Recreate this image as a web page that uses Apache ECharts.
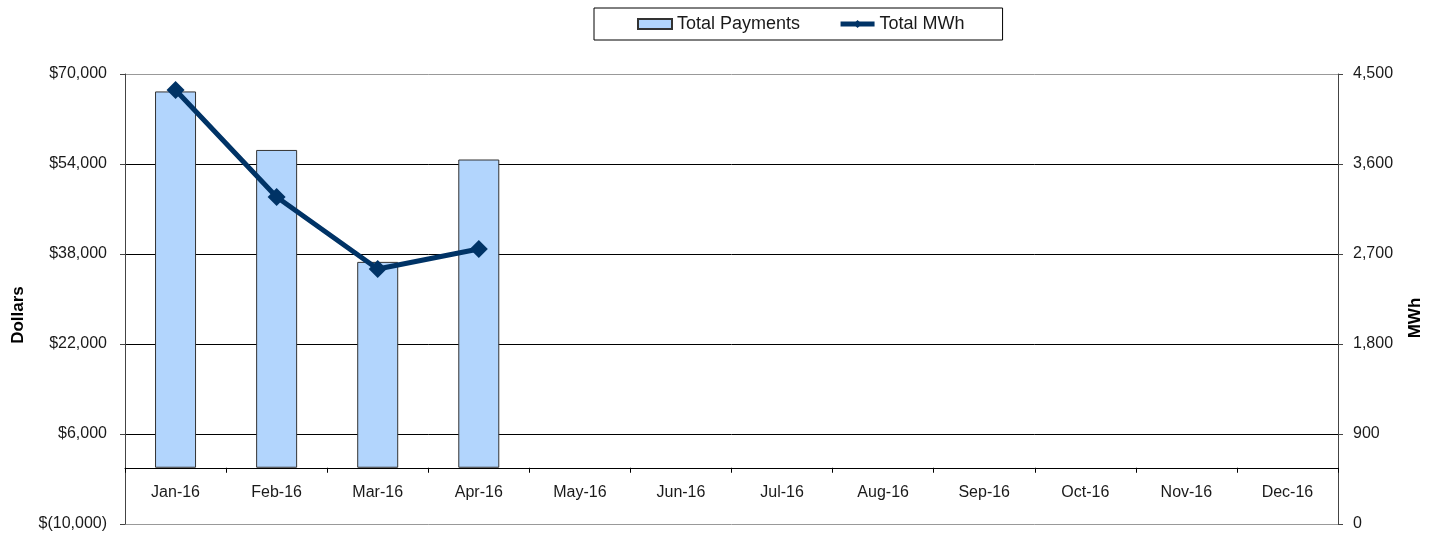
<!DOCTYPE html>
<html>
<head>
<meta charset="utf-8">
<title>Total Payments / Total MWh</title>
<script src="https://cdn.jsdelivr.net/npm/echarts@6/dist/echarts.min.js"></script>
<style>
    html, body { margin: 0; padding: 0; background: #fff; }
    #main { width: 1434px; height: 538px; }
</style>
</head>
<body>
<div id="main"></div>
<script>
// 月份
var months = ['Jan-16', 'Feb-16', 'Mar-16', 'Apr-16', 'May-16', 'Jun-16',
    'Jul-16', 'Aug-16', 'Sep-16', 'Oct-16', 'Nov-16', 'Dec-16'];
// 付款总额 (美元)
var totalPayments = [66900, 56500, 36600, 54800, null, null, null, null, null, null, null, null];
// 总电量 (MWh)
var totalMWh = [4340, 3270, 2550, 2750, null, null, null, null, null, null, null, null];
// 坐标轴范围
var dollarMin = -10000, dollarMax = 70000, dollarStep = 16000;
var mwhMin = 0, mwhMax = 4500, mwhStep = 900;

var fontFamily = "'Liberation Sans', Arial, sans-serif";
var textColor = '#1a1a1a';

// 绘图区
var gridTop = 74, gridBottom = 14, chartHeight = 538;
var plotHeight = chartHeight - gridTop - gridBottom;
// 类目轴放在金额 0 的位置
var zeroOffset = -plotHeight * (0 - dollarMin) / (dollarMax - dollarMin);

// 金额格式化, 负数用括号
function fmtDollar(v) {
    var s = Math.abs(v).toLocaleString('en-US');
    return v < 0 ? '$(' + s + ')' : '$' + s;
}

var myChart = echarts.init(document.getElementById('main'));
var option = {
    animation: false,
    textStyle: {fontFamily: fontFamily},
    legend: {
        left: 594,
        top: 8,
        padding: [7, 38, 7, 43],
        itemGap: 38,
        itemWidth: 34,
        itemHeight: 10,
        borderColor: '#000',
        borderWidth: 1,
        textStyle: {fontSize: 18, color: textColor, fontFamily: fontFamily},
        data: [
            {name: 'Total Payments', icon: 'rect'},
            {name: 'Total MWh', lineStyle: {width: 5}}
        ]
    },
    grid: {left: 125, right: 96, top: gridTop, bottom: gridBottom, outerBoundsMode: 'none', containLabel: false},
    graphic: [
        {
            type: 'text', x: 18, y: 315, rotation: Math.PI / 2,
            style: {text: 'Dollars', fontSize: 17, fontWeight: 'bold', fill: '#000',
                fontFamily: fontFamily, textAlign: 'center', textVerticalAlign: 'middle'}
        },
        {
            type: 'text', x: 1415, y: 318, rotation: Math.PI / 2,
            style: {text: 'MWh', fontSize: 17, fontWeight: 'bold', fill: '#000',
                fontFamily: fontFamily, textAlign: 'center', textVerticalAlign: 'middle'}
        }
    ],
    xAxis: {
        type: 'category',
        data: months,
        position: 'bottom',
        offset: zeroOffset,
        axisLine: {onZero: false, lineStyle: {color: '#000', width: 1}},
        axisTick: {show: true, alignWithLabel: false, length: 5, lineStyle: {color: '#000'}},
        axisLabel: {margin: 17, fontSize: 16, color: textColor, fontFamily: fontFamily, interval: 0},
        splitLine: {show: false}
    },
    yAxis: [
        {
            type: 'value',
            min: dollarMin,
            max: dollarMax,
            interval: dollarStep,
            axisLine: {show: true, lineStyle: {color: '#444'}},
            axisTick: {show: true, length: 5, lineStyle: {color: '#444'}},
            axisLabel: {
                margin: 18, fontSize: 16, color: textColor, fontFamily: fontFamily,
                formatter: fmtDollar
            },
            splitLine: {
                show: true,
                lineStyle: {color: ['#999', '#000', '#000', '#000', '#000', '#999'], width: 1}
            }
        },
        {
            type: 'value',
            min: mwhMin,
            max: mwhMax,
            interval: mwhStep,
            position: 'right',
            axisLine: {show: true, lineStyle: {color: '#444'}},
            axisTick: {show: true, length: 5, lineStyle: {color: '#444'}},
            axisLabel: {
                margin: 15, fontSize: 16, color: textColor, fontFamily: fontFamily,
                formatter: function (v) { return v.toLocaleString('en-US'); }
            },
            splitLine: {show: false}
        }
    ],
    series: [
        {
            name: 'Total Payments',
            type: 'bar',
            yAxisIndex: 0,
            barWidth: 41,
            data: totalPayments,
            itemStyle: {color: '#B2D5FD', borderColor: '#333', borderWidth: 1}
        },
        {
            name: 'Total MWh',
            type: 'line',
            yAxisIndex: 1,
            data: totalMWh,
            symbol: 'diamond',
            symbolSize: 18,
            showAllSymbol: true,
            lineStyle: {color: '#003366', width: 5},
            itemStyle: {color: '#003366'},
            z: 5
        }
    ]
};
myChart.setOption(option);
</script>
</body>
</html>
